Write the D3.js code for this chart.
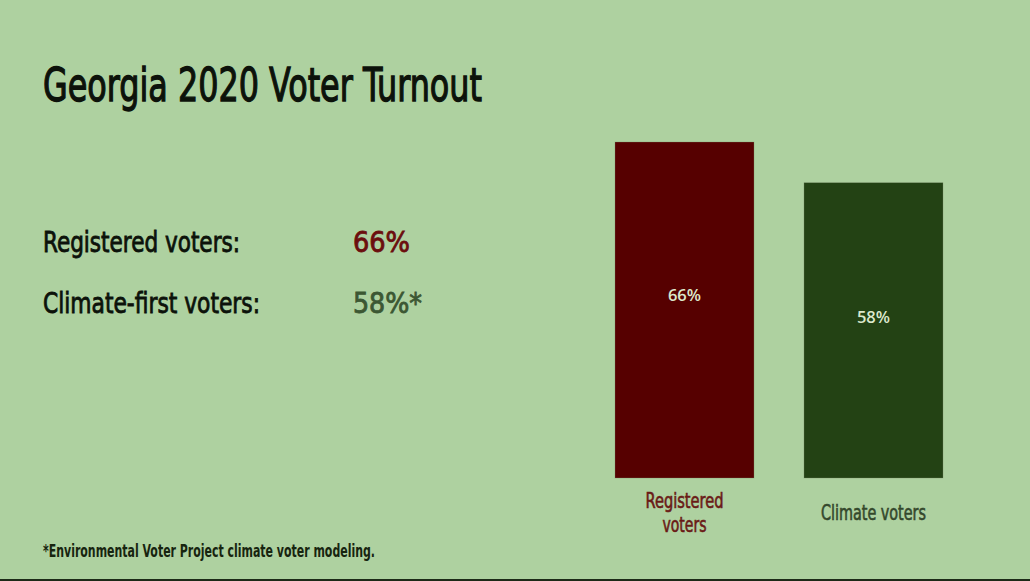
<!DOCTYPE html>
<html><head><meta charset="utf-8">
<script src="https://cdn.jsdelivr.net/npm/d3@7"></script>
<style>
html,body{margin:0;padding:0;background:#aed1a0;}
svg{display:block;}
</style></head>
<body>
<svg id="chart" width="1030" height="581"></svg>
<script>
const title = "Georgia 2020 Voter Turnout";
const categories = ["Registered voters", "Climate voters"];
const categoryLines = [["Registered", "voters"], ["Climate voters"]];
const values = [66, 58];
const barColors = ["#560000", "#234214"];
const labelColors = ["#6a1a16", "#34482c"];
const summaryLabels = ["Registered voters:", "Climate-first voters:"];
const summaryValues = [66, 58];
const summarySuffix = ["", "*"];
const summaryColors = ["#6b0e0e", "#3c5733"];
const footnote = "*Environmental Voter Project climate voter modeling.";

const FONT = "'Liberation Sans Narrow','DejaVu Sans Condensed',sans-serif";
const svg = d3.select("#chart");
svg.append("rect").attr("width",1030).attr("height",581).attr("fill","#aed1a0");

svg.append("text").attr("x",43).attr("y",101)
  .attr("font-family",FONT).attr("font-size",47).attr("fill","#0c120a")
  .attr("stroke","#0c120a").attr("stroke-width",1.3)
  .attr("textLength",439).attr("lengthAdjust","spacingAndGlyphs")
  .text(title);

const sumY = d3.scalePoint().domain(summaryLabels).range([252,313]);
const sumWidths = [197, 217];
const valWidths = [57, 69];
const g = svg.append("g");
summaryLabels.forEach((l,i)=>{
  g.append("text").attr("x",43).attr("y",sumY(l))
    .attr("font-family",FONT).attr("font-size",28).attr("fill","#0c120a")
    .attr("stroke","#0c120a").attr("stroke-width",0.8)
    .attr("textLength",sumWidths[i]).attr("lengthAdjust","spacingAndGlyphs")
    .text(l);
  g.append("text").attr("x",353).attr("y",sumY(l))
    .attr("font-family",FONT).attr("font-size",28).attr("fill",summaryColors[i])
    .attr("stroke",summaryColors[i]).attr("stroke-width",0.8)
    .attr("textLength",valWidths[i]).attr("lengthAdjust","spacingAndGlyphs")
    .text(summaryValues[i]+"%"+summarySuffix[i]);
});

const x = d3.scaleBand().domain(categories).range([615,943]).paddingInner(0.2645).paddingOuter(0);
const y = d3.scaleLinear().domain([0,66]).range([478,142]);

svg.selectAll("rect.bar").data(categories).join("rect").attr("class","bar")
  .attr("x",d=>x(d)).attr("width",x.bandwidth())
  .attr("y",(d,i)=>y(values[i])).attr("height",(d,i)=>y(0)-y(values[i]))
  .attr("fill",(d,i)=>barColors[i])
  .attr("stroke","#7a8a6a").attr("stroke-width",0.6).attr("stroke-opacity",0.5);

svg.selectAll("text.val").data(categories).join("text").attr("class","val")
  .attr("x",d=>x(d)+x.bandwidth()/2)
  .attr("y",(d,i)=>y(values[i]*0.545)+6)
  .attr("text-anchor","middle")
  .attr("font-family","'Open Sans','Noto Sans',sans-serif").attr("font-weight",600)
  .attr("font-size",16.5).attr("fill","#dce8cc")
  .text((d,i)=>values[i]+"%");

const catWidths = [[78,44],[105]];
categories.forEach((c,i)=>{
  const lines = categoryLines[i];
  const base = lines.length===2 ? 508 : 520;
  lines.forEach((ln,j)=>{
    svg.append("text").attr("x",x(c)+x.bandwidth()/2).attr("y",base+j*24)
      .attr("text-anchor","middle")
      .attr("font-family",FONT).attr("font-size",21).attr("fill",labelColors[i])
      .attr("stroke",labelColors[i]).attr("stroke-width",0.6)
      .attr("textLength",catWidths[i][j]).attr("lengthAdjust","spacingAndGlyphs")
      .text(ln);
  });
});

svg.append("text").attr("x",43).attr("y",557)
  .attr("font-family",FONT).attr("font-weight","bold").attr("font-size",18).attr("fill","#17240f")
  .attr("textLength",332).attr("lengthAdjust","spacingAndGlyphs")
  .text(footnote);

svg.append("rect").attr("x",0).attr("y",579).attr("width",1030).attr("height",2).attr("fill","#1d2a18");
</script>
</body></html>
